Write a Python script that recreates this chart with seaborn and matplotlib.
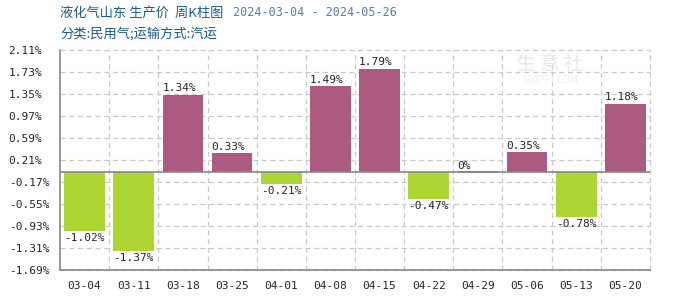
import matplotlib
matplotlib.use("Agg")
import matplotlib.pyplot as plt
import seaborn as sns
import pandas as pd
import numpy as np

dates = ["03-04", "03-11", "03-18", "03-25", "04-01", "04-08", "04-15",
         "04-22", "04-29", "05-06", "05-13", "05-20"]
values = [-1.02, -1.37, 1.34, 0.33, -0.21, 1.49, 1.79, -0.47, 0.0, 0.35, -0.78, 1.18]
yticks = [2.11, 1.73, 1.35, 0.97, 0.59, 0.21, -0.17, -0.55, -0.93, -1.31, -1.69]

sns.set_theme(style="white")
plt.rcParams['font.family'] = ['Noto Sans CJK SC', 'DejaVu Sans']

df = pd.DataFrame({"date": dates, "value": values,
                   "sign": ["up" if v >= 0 else "down" for v in values]})

fig = plt.figure(figsize=(7, 3), dpi=100)
ax = fig.add_axes([60/700, 1 - 270/300, 590/700, 220/300])

sns.barplot(data=df, x="date", y="value", hue="sign",
            palette={"up": "#AC5A80", "down": "#ADD632"},
            dodge=False, width=0.83, legend=False, ax=ax, saturation=1,
            linewidth=0)
for p in ax.patches:
    if abs(p.get_height()) < 1e-9:
        p.set_edgecolor("#AC5A80")
        p.set_linewidth(1.2)

ax.set_ylim(-1.69, 2.11)
ax.set_xlim(-0.5, len(dates) - 0.5)
ax.set_yticks(yticks)
ax.set_yticklabels([f"{t:.2f}%" for t in yticks], family="DejaVu Sans Mono", fontsize=8)
ax.set_xticks(range(len(dates)))
ax.set_xticklabels(dates, family="DejaVu Sans Mono", fontsize=8)
ax.tick_params(axis="x", length=0, pad=8)
ax.tick_params(axis="y", length=0, pad=37)
for lab in ax.get_yticklabels():
    lab.set_horizontalalignment("left")
ax.set_xlabel("")
ax.set_ylabel("")

# grid
for t in yticks:
    ax.axhline(t, color="#c8c8c8", lw=0.9, ls=(0, (4, 3)), zorder=0, clip_on=False)
for k in range(len(dates)):
    ax.axvline(k + 0.5, color="#c8c8c8", lw=0.9, ls=(0, (4, 3)), zorder=0, clip_on=False)
ax.axhline(0, color="#888888", lw=1.2, zorder=3)

for s in ["top", "right"]:
    ax.spines[s].set_visible(False)
for s in ["left", "bottom"]:
    ax.spines[s].set_color("#888888")
    ax.spines[s].set_linewidth(1.2)

# labels
for i, v in enumerate(values):
    txt = f"{v:g}%"
    left = i - 0.83 / 2
    if v >= 0:
        ax.annotate(txt, (left, v), xytext=(0, 1), textcoords="offset points",
                    ha="left", va="bottom", fontsize=8, family="DejaVu Sans Mono")
    else:
        ax.annotate(txt, (left, v), xytext=(0, -1), textcoords="offset points",
                    ha="left", va="top", fontsize=8, family="DejaVu Sans Mono")

# watermark
fig.text(550/700, 1 - 65/300, "生 意 社", fontsize=14, color="#e8e8e8",
         ha="center", va="center", zorder=0)
fig.text(550/700, 1 - 80/300, "100PPI.COM", fontsize=7, color="#eeeeee",
         ha="center", va="center", zorder=0)

# titles
fig.text(60/700, 1 - 13/300, "液化气山东 生产价  周K柱图", fontsize=9.5,
         color="#1B5C8B", ha="left", va="center")
fig.text(233/700, 1 - 13/300, "2024-03-04 - 2024-05-26", fontsize=8.5,
         color="#5a7f9c", ha="left", va="center", family="DejaVu Sans Mono")
fig.text(60/700, 1 - 34/300, "分类:民用气;运输方式:汽运", fontsize=9.5,
         color="#1B5C8B", ha="left", va="center")

fig.savefig("out.png", dpi=100)
